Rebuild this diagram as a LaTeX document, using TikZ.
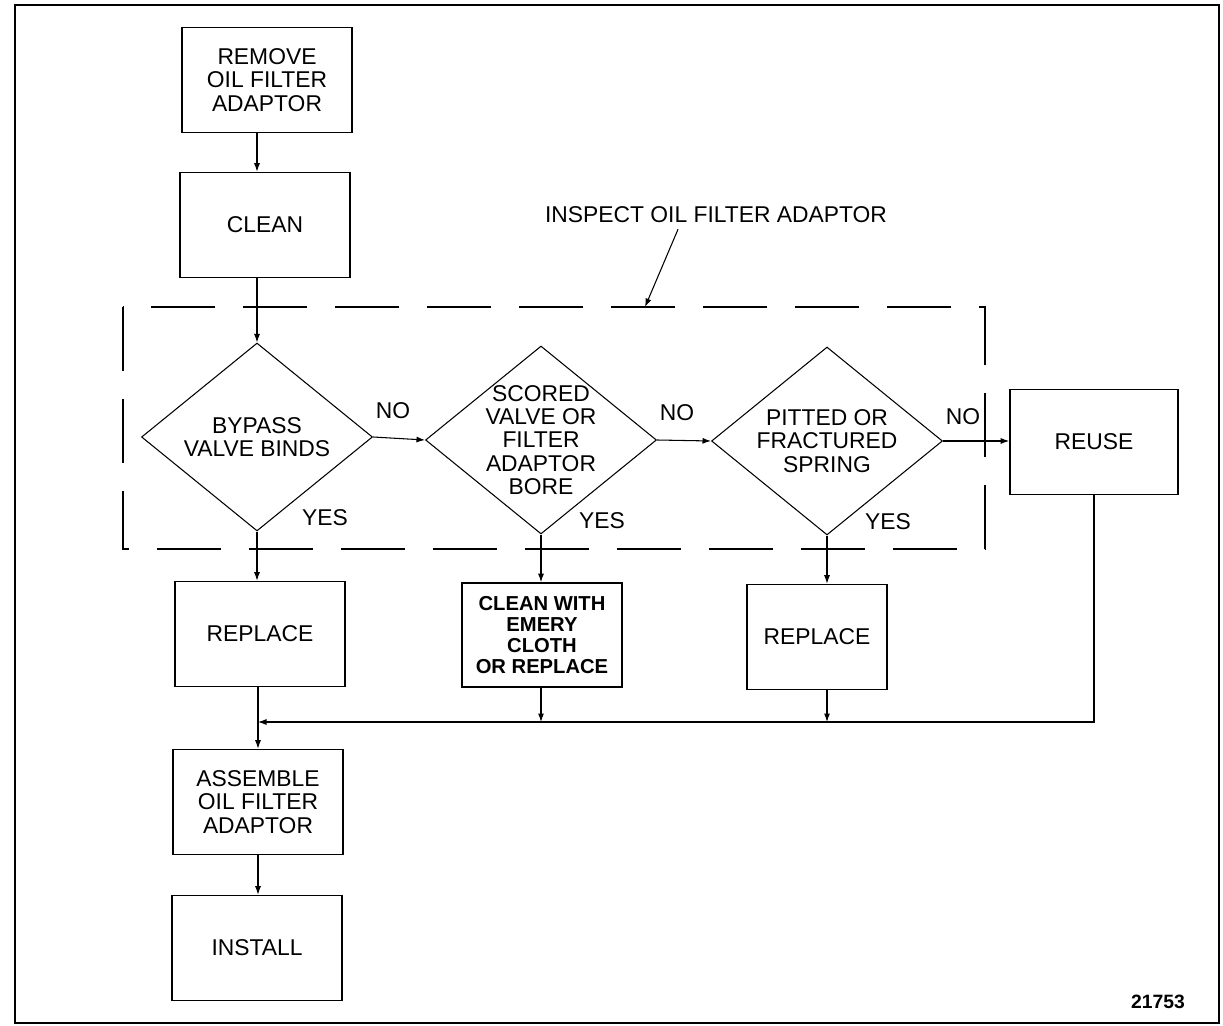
\documentclass[tikz,border=0pt]{standalone}
\usepackage{fontspec}
\setmainfont{Liberation Sans}
\usetikzlibrary{shapes.geometric,arrows.meta}

\begin{document}
\begin{tikzpicture}[x=0.02cm,y=-0.02cm,
  every node/.style={font=\fontsize{13}{13.2}\selectfont},
  box/.style={draw,line width=0.9pt,minimum width=3.4cm,minimum height=2.1cm,align=center,inner sep=2pt},
  dia/.style={draw,diamond,line width=0.6pt,minimum width=4.62cm,minimum height=3.76cm,inner sep=0pt},
  arr/.style={-{Latex[length=1.7mm,width=1.2mm]},line width=0.6pt},
  frame/.style={line width=1.6pt},
  group/.style={line width=1.6pt,dash pattern=on 1.28cm off 0.56cm}
]
\useasboundingbox (0,0) rectangle (1223,1026);

% Rahmen
\draw[frame] (15,5) rectangle (1219,1023);

% Vorbereitung
\node[box]
(rem)
at (267,80)
{REMOVE\\OIL FILTER\\ADAPTOR};

\node[box]
(cln)
at (265,225)
{CLEAN};

% Pruefung
\draw[group] (123,307) rectangle (985,549);

\node
(insp)
at (716,215)
{INSPECT OIL FILTER ADAPTOR};
\coordinate (tip) at (645,307);

\node[dia,label={[align=center]center:{BYPASS\\VALVE BINDS}}]
(d1)
at (257,437)
{};

\node[dia,label={[align=center]center:{SCORED\\VALVE OR\\FILTER\\ADAPTOR\\BORE}}]
(d2)
at (541,440)
{};

\node[dia,label={[align=center]center:{PITTED OR\\FRACTURED\\SPRING}}]
(d3)
at (827,441)
{};

\node (n1) at (393,411) {NO};
\node (n2) at (677,413) {NO};
\node (n3) at (963,417) {NO};
\node (y1) at (325,518) {YES};
\node (y2) at (602,521) {YES};
\node (y3) at (888,522) {YES};

% Ergebnisse
\node[box,minimum width=3.36cm]
(reuse)
at (1094,442)
{REUSE};

\node[box]
(rep1)
at (260,634)
{REPLACE};

\node[box,minimum width=3.2cm,minimum height=2.08cm,font=\bfseries\fontsize{11.5}{12}\selectfont]
(cln2)
at (542,635)
{CLEAN WITH\\EMERY\\CLOTH\\OR REPLACE};

\node[box,minimum width=2.8cm]
(rep2)
at (817,637)
{REPLACE};

% Abschluss
\coordinate (mrg) at (258,722);

\node[box]
(asm)
at (258,802)
{ASSEMBLE\\OIL FILTER\\ADAPTOR};

\node[box]
(inst)
at (257,948)
{INSTALL};

\node[font=\bfseries\fontsize{11}{12}\selectfont]
(fig)
at (1158,1002)
{21753};

% Pfeile
\draw[arr] (rem.south -| d1.north) -- (cln.north -| d1.north);
\draw[arr] (cln.south -| d1.north) -- (d1.north);
\draw[arr] ([xshift=-0.76cm]insp.south) -- (tip);
\draw[arr] (d1.east) -- (d2.west);
\draw[arr] (d2.east) -- (d3.west);
\draw[arr] (d3.east) -- (d3.east -| reuse.west);
\draw[arr] (d1.south) -- (d1.south |- rep1.north);
\draw[arr] (d2.south) -- (d2.south |- cln2.north);
\draw[arr] (d3.south) -- (d3.south |- rep2.north);
\draw[arr] (reuse.south) |- (mrg);
\draw[arr] (cln2.south -| d2.south) -- (mrg -| d2.south);
\draw[arr] (rep2.south -| d3.south) -- (mrg -| d3.south);
\draw[arr] (rep1.south -| mrg) -- (asm.north -| mrg);
\draw[arr] (asm.south -| mrg) -- (inst.north -| mrg);

\end{tikzpicture}
\end{document}
